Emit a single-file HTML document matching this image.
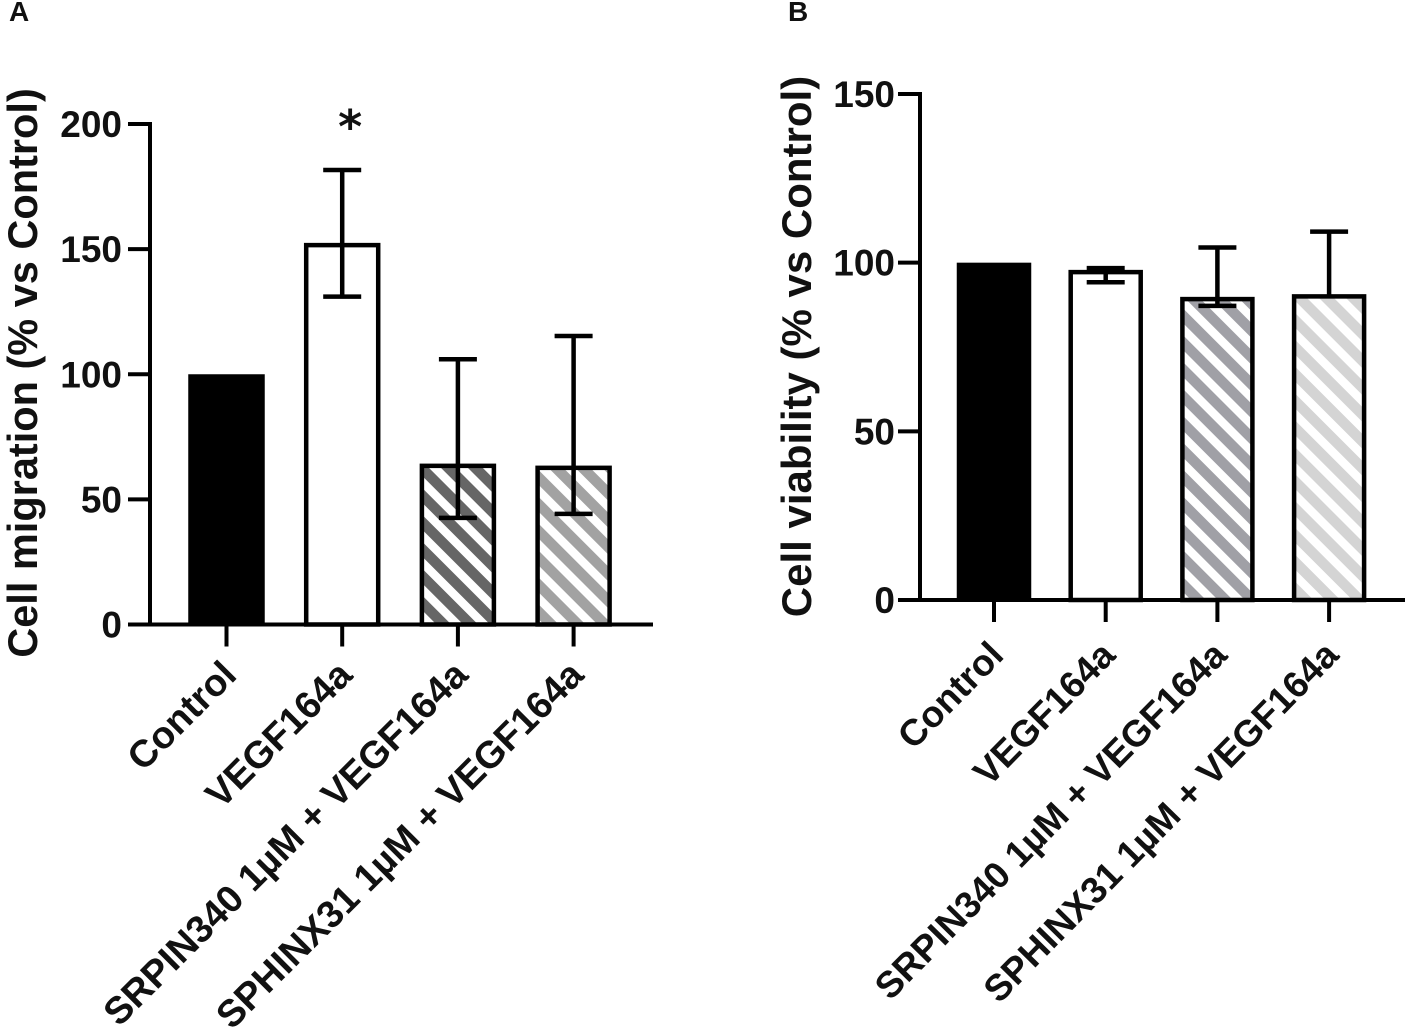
<!DOCTYPE html>
<html>
<head>
<meta charset="utf-8">
<title>Cell migration and viability bar charts</title>
<style>
html,body{margin:0;padding:0;background:#fff;}
svg{display:block;}
text{font-family:"Liberation Sans",Arial,sans-serif;font-weight:bold;fill:#111;}
</style>
</head>
<body>
<svg id="figure" width="1405" height="1030" viewBox="0 0 1405 1030" xmlns="http://www.w3.org/2000/svg">
  <defs>
    <pattern id="hatch-a3" patternUnits="userSpaceOnUse" width="19" height="19" patternTransform="rotate(-45)"><rect width="19" height="19" fill="#fff"/><rect width="10.5" height="19" fill="#666666"/></pattern>
    <pattern id="hatch-a4" patternUnits="userSpaceOnUse" width="19" height="19" patternTransform="rotate(-45)"><rect width="19" height="19" fill="#fff"/><rect width="10.5" height="19" fill="#a2a2a2"/></pattern>
    <pattern id="hatch-b3" patternUnits="userSpaceOnUse" width="19" height="19" patternTransform="rotate(-45)"><rect width="19" height="19" fill="#fff"/><rect width="10.5" height="19" fill="#a0a0a6"/></pattern>
    <pattern id="hatch-b4" patternUnits="userSpaceOnUse" width="19" height="19" patternTransform="rotate(-45)"><rect width="19" height="19" fill="#fff"/><rect width="10.5" height="19" fill="#d4d4d4"/></pattern>
  </defs>
  <text x="9" y="21" font-size="28">A</text>
  <text x="788" y="21" font-size="28">B</text>
  <g id="panel-a"></g>
  <g id="panel-b"></g>
</svg>
<script>
const categories = ["Control", "VEGF164a", "SRPIN340 1µM + VEGF164a", "SPHINX31 1µM + VEGF164a"];

const migrationTicks = [0, 50, 100, 150, 200];
const migrationMeans = [100, 151.6, 63.4, 62.6];
const migrationErrorHigh = [null, 181.6, 106, 115.3];
const migrationErrorLow = [null, 131, 42.6, 44.2];
const migrationMarkers = [null, "*", null, null];

const viabilityTicks = [0, 50, 100, 150];
const viabilityMeans = [100, 97.2, 89.2, 90];
const viabilityErrorHigh = [null, 98.4, 104.5, 109.2];
const viabilityErrorLow = [null, 94.2, 87.2, null];
const viabilityMarkers = [null, null, null, null];

const SVGNS = "http://www.w3.org/2000/svg";

function make(parent, tag, attrs, text) {
  const el = document.createElementNS(SVGNS, tag);
  for (const k in attrs) el.setAttribute(k, attrs[k]);
  if (text !== undefined) el.textContent = text;
  parent.appendChild(el);
  return el;
}

function drawPanel(cfg) {
  const root = document.getElementById(cfg.id);
  const yMax = cfg.ticks[cfg.ticks.length - 1];
  const y = v => cfg.y0 + (cfg.yTop - cfg.y0) * v / yMax;
  const x = i => cfg.x0 + cfg.step * i;

  categories.forEach((cat, i) => {
    const top = y(cfg.means[i]);
    const solid = cfg.fills[i] === "#000";
    const pad = solid ? 2.25 : 0;
    const bar = make(root, "rect", {
      x: x(i) - cfg.barW / 2 - pad, y: top, width: cfg.barW + 2 * pad, height: cfg.y0 - top,
      fill: cfg.fills[i], stroke: solid ? "none" : "#000", "stroke-width": 4.5
    });
    
    

    const hi = cfg.errHigh[i];
    const lo = cfg.errLow[i];
    if (hi !== null) {
      const from = lo !== null ? y(lo) : top;
      const stem = make(root, "line", {x1: x(i), x2: x(i), y1: y(hi), y2: from, stroke: "#000", "stroke-width": 4.5});
      
      
      const capHi = make(root, "line", {x1: x(i) - 19, x2: x(i) + 19, y1: y(hi), y2: y(hi), stroke: "#000", "stroke-width": 4.5});
      
      
      if (lo !== null) {
        const capLo = make(root, "line", {x1: x(i) - 19, x2: x(i) + 19, y1: y(lo), y2: y(lo), stroke: "#000", "stroke-width": 4.5});
        
        
      }
    }

    if (cfg.markers[i]) {
      const mark = make(root, "text", {x: x(i) + 8, y: y(hi) - 27, "font-size": 46, style: "font-family:'DejaVu Sans',sans-serif;font-weight:bold", "text-anchor": "middle"}, cfg.markers[i]);
      
      
    }

    const tick = make(root, "line", {x1: x(i), x2: x(i), y1: cfg.y0, y2: cfg.y0 + 22, stroke: "#000", "stroke-width": 4});
    
    

    const lx = x(i) + cfg.labelDx;
    const ly = cfg.y0 + cfg.labelDy;
    const label = make(root, "text", {
      x: lx, y: ly, "font-size": cfg.xFont, "text-anchor": "end",
      transform: "rotate(" + cfg.labelAngle + " " + lx + " " + ly + ")"
    }, cat);
    
    
  });

  const yAxis = make(root, "line", {x1: cfg.axisX, x2: cfg.axisX, y1: cfg.yTop - 2, y2: cfg.y0 + 2, stroke: "#000", "stroke-width": 4});
  
  

  const xAxis = make(root, "line", {x1: cfg.axisX - 22, x2: cfg.axisEnd, y1: cfg.y0, y2: cfg.y0, stroke: "#000", "stroke-width": 4});
  
  

  cfg.ticks.forEach(t => {
    const tl = make(root, "line", {x1: cfg.axisX - 22, x2: cfg.axisX, y1: y(t), y2: y(t), stroke: "#000", "stroke-width": 4});
    
    
    const lab = make(root, "text", {x: cfg.axisX - cfg.tickGap, y: y(t) + 13, "font-size": 37, "text-anchor": "end"}, String(t));
    
    
  });

  const title = make(root, "text", {
    x: cfg.titleX, y: cfg.titleY, "font-size": cfg.titleFont, "text-anchor": "middle",
    transform: "rotate(-90 " + cfg.titleX + " " + cfg.titleY + ")"
  }, cfg.title);
  
  
}

drawPanel({
  id: "panel-a", key: "migration", title: "Cell migration (% vs Control)",
  ticks: migrationTicks, means: migrationMeans, errHigh: migrationErrorHigh, errLow: migrationErrorLow, markers: migrationMarkers,
  fills: ["#000", "#fff", "url(#hatch-a3)", "url(#hatch-a4)"],
  y0: 624.5, yTop: 124, x0: 226.5, step: 115.7, barW: 72, axisX: 150, axisEnd: 653, tickGap: 28,
  labelDx: 12, labelDy: 52.5, labelAngle: -45, xFont: 38, titleX: 37, titleY: 373, titleFont: 41.5
});

drawPanel({
  id: "panel-b", key: "viability", title: "Cell viability (% vs Control)",
  ticks: viabilityTicks, means: viabilityMeans, errHigh: viabilityErrorHigh, errLow: viabilityErrorLow, markers: viabilityMarkers,
  fills: ["#000", "#fff", "url(#hatch-b3)", "url(#hatch-b4)"],
  y0: 600, yTop: 94, x0: 994, step: 111.7, barW: 70, axisX: 920, axisEnd: 1405, tickGap: 25,
  labelDx: 11.5, labelDy: 57, labelAngle: -45.5, xFont: 37, titleX: 811, titleY: 346.5, titleFont: 42
});
</script>
</body>
</html>
